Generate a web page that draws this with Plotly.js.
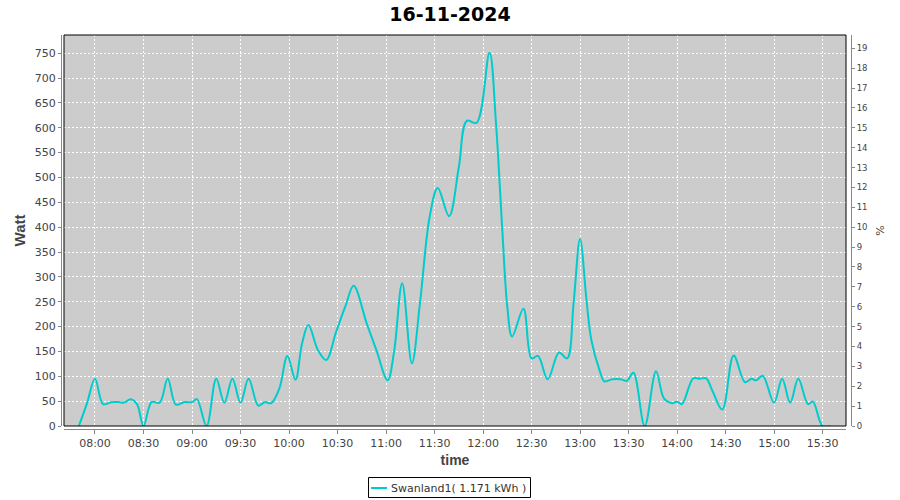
<!DOCTYPE html>
<html>
<head>
<meta charset="utf-8">
<script src="https://cdn.plot.ly/plotly-3.0.1.min.js"></script>
<style>
  html, body { margin: 0; padding: 0; background: #ffffff; }
  #chart { width: 900px; height: 500px; }
</style>
</head>
<body>
<div id="chart"></div>
<script>
// ---- data ----
const chartDate = '2024-11-16';
const chartTitle = '16-11-2024';
const seriesName = 'Swanland1( 1.171 kWh )';

const times = [
  '07:50','07:55','08:00','08:05','08:10','08:15','08:18','08:22','08:26','08:30',
  '08:35','08:40','08:45','08:50','08:55','09:00','09:03','09:09','09:15','09:20',
  '09:25','09:30','09:35','09:41','09:45','09:49','09:54','09:59','10:04','10:08',
  '10:12','10:18','10:23','10:29','10:35','10:40','10:48','10:54','11:01','11:05',
  '11:10','11:16','11:21','11:27','11:32','11:39','11:45','11:50','11:56','12:04',
  '12:08','12:12','12:15','12:18','12:25','12:30','12:34','12:40','12:47','12:52',
  '12:56','13:00','13:04','13:07','13:12','13:15','13:20','13:25','13:29','13:33',
  '13:40','13:47','13:52','13:57','14:00','14:03','14:10','14:14','14:18','14:22',
  '14:28','14:35','14:42','14:46','14:49','14:53','15:00','15:05','15:10','15:15',
  '15:21','15:24','15:30','15:35'
];
const watts = [
  0, 45, 95, 44, 48, 48, 47, 54, 44, 0,
  48, 47, 95, 43, 48, 48, 54, 0, 95, 47,
  95, 47, 95, 41, 48, 46, 75, 141, 93, 165,
  203, 152, 133, 188, 242, 282, 207, 153, 92, 150,
  287, 126, 247, 421, 479, 422, 520, 614, 610, 751,
  610, 390, 240, 180, 236, 136, 141, 94, 148, 136,
  247, 376, 253, 173, 113, 90, 94, 94, 91, 107,
  0, 110, 55, 46, 49, 44, 96, 95, 96, 70,
  33, 142, 88, 95, 92, 101, 47, 95, 47, 95,
  44, 49, 0, 0
];

const xStart = '07:40:50';
const xEnd = '15:44:30';
const wattMax = 786.7;
const pctMax = 19.67;

// ---- build ----
const xs = times.map(t => chartDate + ' ' + t);

const axisGray = '#888888';
const labelGray = '#444444';

const traceMain = {
  type: 'scatter', mode: 'lines',
  x: xs, y: watts, name: seriesName,
  line: { color: '#00cccc', width: 2, shape: 'spline', smoothing: 1 },
  xaxis: 'x', yaxis: 'y', showlegend: false, hoverinfo: 'x+y'
};
const tracePct = {
  type: 'scatter', mode: 'lines',
  x: [xs[0]], y: [null], xaxis: 'x', yaxis: 'y2',
  showlegend: false, hoverinfo: 'skip'
};

// pixel helpers for paper coords (plot region x 61..851, y 35..429)
const L = 61, R = 851, T = 35, B = 429;
const px = v => (v - L) / (R - L);
const py = v => (B - v) / (B - T);

const layout = {
  width: 900, height: 500,
  paper_bgcolor: '#ffffff',
  plot_bgcolor: '#cccccc',
  margin: { l: L, r: 900 - R, t: T, b: 500 - B, pad: 0 },
  title: {
    text: '<b>' + chartTitle + '</b>',
    font: { family: 'DejaVu Sans', size: 19, color: '#000000' },
    x: 0.5, xref: 'container', xanchor: 'center',
    y: 1 - 14 / 500, yref: 'container', yanchor: 'middle'
  },
  xaxis: {
    type: 'date',
    domain: [px(64), px(846)],
    anchor: 'free', position: 0,
    range: [chartDate + ' ' + xStart, chartDate + ' ' + xEnd],
    tickformat: '%H:%M',
    dtick: 1800000,
    tick0: chartDate + ' 08:00',
    showgrid: true, gridcolor: '#ffffff', gridwidth: 1, griddash: '2px,2px',
    zeroline: false,
    showline: true, linecolor: axisGray, linewidth: 1,
    ticks: 'outside', ticklen: 4, tickcolor: axisGray, tickwidth: 1,
    tickfont: { family: 'DejaVu Sans', size: 11, color: labelGray },
    title: {
      text: '<b>time</b>',
      font: { family: 'Liberation Sans', size: 14, color: labelGray },
      standoff: 5
    },
    automargin: false, fixedrange: true
  },
  yaxis: {
    domain: [py(426), 1],
    anchor: 'free', position: 0,
    range: [0, wattMax],
    dtick: 50, tick0: 0,
    showgrid: true, gridcolor: '#ffffff', gridwidth: 1, griddash: '2px,2px',
    zeroline: false,
    showline: true, linecolor: axisGray, linewidth: 1,
    ticks: 'outside', ticklen: 3, tickcolor: axisGray, tickwidth: 1,
    tickfont: { family: 'DejaVu Sans', size: 11, color: labelGray },
    title: {
      text: '<b>Watt</b>',
      font: { family: 'Liberation Sans', size: 15, color: labelGray },
      standoff: 4
    },
    automargin: false, fixedrange: true
  },
  yaxis2: {
    overlaying: 'y', side: 'right',
    anchor: 'free', position: 1,
    range: [0, pctMax],
    dtick: 1, tick0: 0,
    showgrid: false, zeroline: false,
    showline: true, linecolor: axisGray, linewidth: 1,
    ticks: 'outside', ticklen: 3, tickcolor: axisGray, tickwidth: 1,
    tickfont: { family: 'DejaVu Sans', size: 8.5, color: labelGray },
    title: {
      text: '%',
      font: { family: 'DejaVu Sans', size: 11, color: labelGray },
      standoff: 9
    },
    automargin: false, fixedrange: true
  },
  showlegend: false,
  shapes: [
    // plot border
    { type: 'rect', xref: 'x domain', yref: 'y domain', x0: 0, x1: 1, y0: 0, y1: 1,
      line: { color: '#000000', width: 1 }, fillcolor: 'rgba(0,0,0,0)', layer: 'above' },
    // legend frame
    { type: 'rect', xref: 'paper', yref: 'paper',
      x0: px(368.5), x1: px(530.5), y0: py(497.5), y1: py(477.5),
      line: { color: '#000000', width: 1 }, fillcolor: '#ffffff', layer: 'above' },
    // legend line sample
    { type: 'line', xref: 'paper', yref: 'paper',
      x0: px(371), x1: px(387), y0: py(488), y1: py(488),
      line: { color: '#00cccc', width: 2 }, layer: 'above' }
  ],
  annotations: [
    { xref: 'paper', yref: 'paper', x: px(389), y: py(488),
      xanchor: 'left', yanchor: 'middle', showarrow: false,
      text: seriesName,
      font: { family: 'DejaVu Sans', size: 11, color: '#333333' } }
  ]
};

Plotly.newPlot('chart', [traceMain, tracePct], layout, { displayModeBar: false, staticPlot: true });
</script>
</body>
</html>
